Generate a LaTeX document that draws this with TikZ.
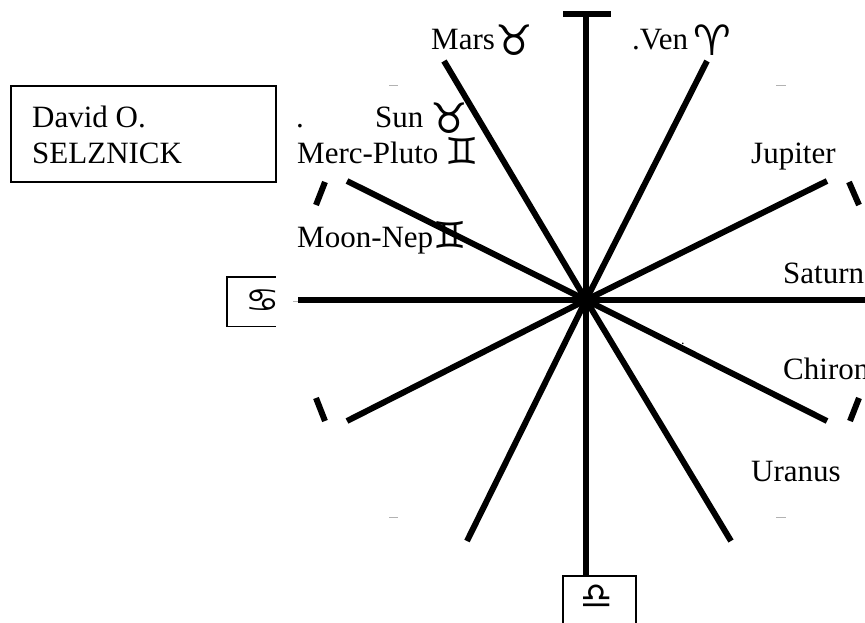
\documentclass[tikz,border=0pt]{standalone}
\usepackage{fontspec}
\setmainfont{Liberation Serif}
\newfontfamily\signfont{DejaVu Sans}
\newcommand{\bigsign}[1]{\raisebox{-6pt}{\signfont\fontsize{42}{42}\selectfont #1}}
\newcommand{\midsign}[1]{\raisebox{-1pt}{\signfont\fontsize{37}{37}\selectfont #1}}
\usetikzlibrary{positioning}

\begin{document}
\begin{tikzpicture}[
    x=1pt,y=-1pt,
    spoke/.style={line width=6pt},
    faint/.style={line width=0.7pt,draw=black!30},
    planet/.style={anchor=base west, inner sep=0pt, font=\fontsize{31}{36}\selectfont},
    signbox/.style={rectangle, line width=1.5pt, inner sep=0pt},
    ]
\useasboundingbox (0,0) rectangle (865,622);

%Nodes
\coordinate (C) at (586,300);
\coordinate (S1) at (707,61);
\coordinate (S2) at (827,181);
\coordinate (S3) at (865,300);
\coordinate (S4) at (827,421);
\coordinate (S5) at (731,541);
\coordinate (S7) at (467,541);
\coordinate (S8) at (347,421);
\coordinate (S9) at (298,300);
\coordinate (S10) at (347,181);
\coordinate (S11) at (444,61);
\coordinate (S12) at (586,14);

\node[signbox, draw, anchor=north west, minimum width=265pt, minimum height=96pt] (Name) at (10,85) {};
\node[planet, align=left, anchor=north west] (NameText) at (32,106) {David O.\\SELZNICK};

\node[signbox, minimum width=48pt, minimum height=48pt, anchor=north west] (Cancer) at (227,277) {};
\node[inner sep=0pt, xscale=1.2, font=\signfont\fontsize{32}{32}\selectfont] (CancerSign) at (263,301) {♋};
\draw[signbox] (Cancer.north east) -- (Cancer.north west) -- (Cancer.south west) -- (Cancer.south east);
\fill[white] (275.5,270) rectangle (296,335);

\node[signbox, draw, fill=white, anchor=north, minimum width=73pt, minimum height=70pt] (Libra) at (599.5,575) {};
\node[font=\signfont\fontsize{36}{36}\selectfont, inner sep=0pt] (LibraSign) at (597,597) {♎};

\node[planet] (Mars) at (431,49) {Mars\hspace{1pt}\bigsign{♉}};
\node[planet] (Ven) at (632,49) {.Ven\hspace{5pt}\bigsign{♈}};
\node[planet] (Sun) at (375,127) {Sun\hspace{7pt}\bigsign{♉}};
\node[planet] (Dot1) at (296,127) {.};
\node[planet] (Merc) at (297,163) {Merc-Pluto\hspace{7pt}\midsign{♊}};
\node[planet] (Moon) at (297,247) {Moon-Nep\midsign{♊}};
\node[planet] (Jup) at (751,163) {Jupiter};
\node[planet] (Sat) at (783,283) {Saturn};
\node[planet] (Chi) at (783,379) {Chiron};
\node[planet] (Ura) at (751,481) {Uranus};
\node[planet, font=\fontsize{14}{16}\selectfont] (Dot2) at (681,344) {.};

%Lines
\path[spoke, draw]
(C) edge (S1)
    edge (S2)
    edge (S3)
    edge (S4)
    edge (S5)
    edge (C |- Libra.north)
    edge (S7)
    edge (S8)
    edge (S9)
    edge (S10)
    edge (S11)
    edge (S12);
\draw[spoke] (563,14) -- (611,14);

%Ticks
\draw[spoke] (325,182) -- (316,205);
\draw[spoke] (849,182) -- (859,205);
\draw[spoke] (316,398) -- (325,421);
\draw[spoke] (859,398) -- (850,421);
\draw[faint] (389,85) -- (398,85);
\draw[faint] (776,85) -- (786,85);
\draw[faint] (389,517) -- (398,517);
\draw[faint] (776,517) -- (786,517);
\draw[faint] (293,301) -- (298,301);
\end{tikzpicture}
\end{document}
